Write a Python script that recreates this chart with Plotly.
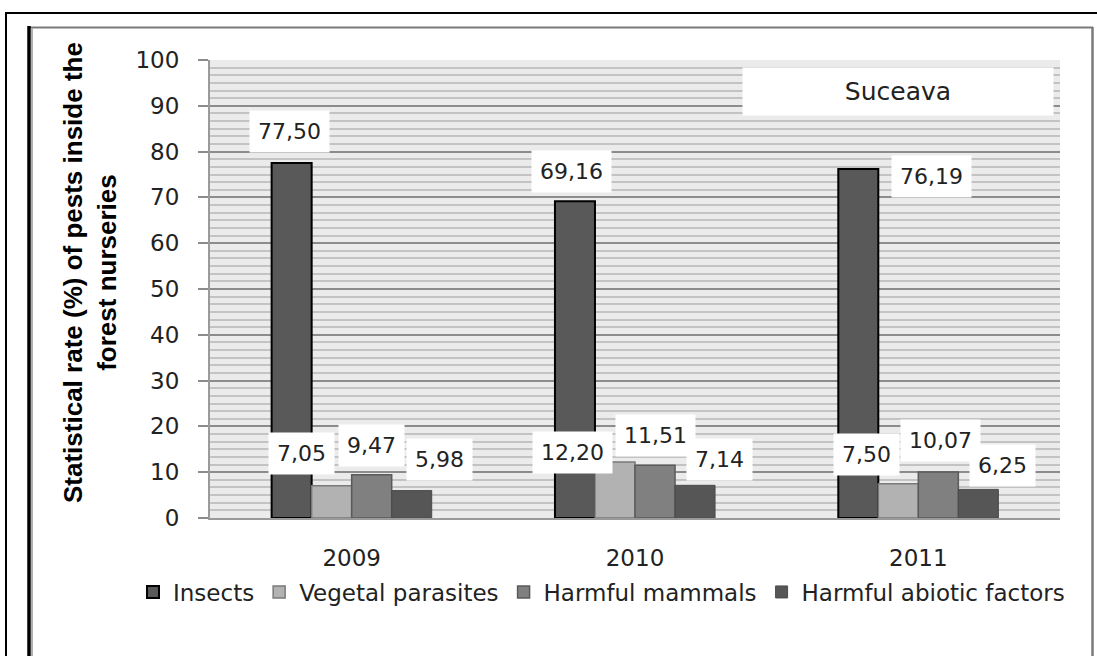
import plotly.graph_objects as go

# ---- data ----
years = ["2009", "2010", "2011"]
insects = [77.50, 69.16, 76.19]
vegetal = [7.05, 12.20, 7.50]
mammals = [9.47, 11.51, 10.07]
abiotic = [5.98, 7.14, 6.25]
series_names = ["Insects", "Vegetal parasites", "Harmful mammals", "Harmful abiotic factors"]
y_tick_vals = list(range(0, 101, 10))

# ---- styling ----
W, H = 1097, 656
L, R, T, B = 210, 37, 60, 138
PW, PH = W - L - R, H - T - B

def px2x(px):
    return (px - L) / PW

def px2y(py):
    return (H - B - py) / PH

fills = ["#595959", "#b2b2b2", "#808080", "#565656"]
edges = ["#000000", "#7a7a7a", "#5a5a5a", "#4a4a4a"]
edge_w = [2, 1.5, 1.5, 1]
series = [insects, vegetal, mammals, abiotic]

# label offsets (px) relative to bar top centre: (dx, dy up)
label_offsets = [
    [(-2, 32), (-4, 30), (73, -7)],
    [(-30, 32), (-43, 10), (-32, 29)],
    [(0, 29), (0, 30), (2, 31)],
    [(28, 31), (24, 26), (24, 24)],
]
slot_px = 40  # width of one bar in px

fig = go.Figure()
for name, vals, fc, ec, ew in zip(series_names, series, fills, edges, edge_w):
    fig.add_trace(go.Bar(
        x=years, y=vals, name=name,
        marker=dict(color=fc, line=dict(color=ec, width=ew)),
    ))

annotations = []
for i, vals in enumerate(series):
    for j, v in enumerate(vals):
        dx, dy = label_offsets[i][j]
        annotations.append(dict(
            x=j, y=v, xref="x", yref="y",   # x = category index
            text=f"{v:.2f}".replace(".", ","),
            showarrow=False, xanchor="center", yanchor="middle",
            xshift=(i - 1.5) * slot_px + dx, yshift=dy,
            bgcolor="white", borderpad=8,
            font=dict(family="DejaVu Sans", size=22, color="#222222"),
        ))

annotations.append(dict(
    x=px2x(898), y=px2y(91), xref="paper", yref="paper",
    text="Suceava", showarrow=False, xanchor="center", yanchor="middle",
    bgcolor="white", borderpad=10, width=290, height=27,
    font=dict(family="DejaVu Sans", size=25, color="#222222"),
))

annotations.append(dict(
    x=px2x(90), y=px2y(273), xref="paper", yref="paper",
    text="<b>Statistical rate (%) of pests inside the<br>forest nurseries</b>",
    showarrow=False, textangle=-90, xanchor="center", yanchor="middle",
    font=dict(family="Liberation Sans", size=26, color="#000000"),
))

shapes = [
    dict(type="rect", xref="paper", yref="paper",
         x0=px2x(6), y0=px2y(13), x1=px2x(1120), y1=px2y(700),
         line=dict(color="#000000", width=2), layer="above"),
    dict(type="line", xref="paper", yref="paper",
         x0=px2x(28), y0=px2y(27.5), x1=px2x(1093), y1=px2y(27.5),
         line=dict(color="#7a7a7a", width=2)),
    dict(type="line", xref="paper", yref="paper",
         x0=px2x(1092.5), y0=px2y(27), x1=px2x(1092.5), y1=px2y(700),
         line=dict(color="#7a7a7a", width=2.5)),
    dict(type="line", xref="paper", yref="paper",
         x0=px2x(32), y0=px2y(28), x1=px2x(32), y1=px2y(700),
         line=dict(color="#b0b0b0", width=2)),
    dict(type="line", xref="paper", yref="paper",
         x0=px2x(29), y0=px2y(26), x1=px2x(29), y1=px2y(700),
         line=dict(color="#000000", width=3.5)),
]

fig.update_layout(
    width=W, height=H,
    margin=dict(l=L, r=R, t=T, b=B, autoexpand=False),
    paper_bgcolor="white", plot_bgcolor="#ebebeb",
    barmode="group", bargap=0.435, bargroupgap=0,
    showlegend=True,
    legend=dict(orientation="h", xref="paper", yref="paper",
                x=px2x(133), y=px2y(592),
                xanchor="left", yanchor="middle",
                font=dict(family="DejaVu Sans", size=23, color="#222222"),
                bgcolor="rgba(0,0,0,0)", traceorder="normal"),
    annotations=annotations,
    shapes=shapes,
    font=dict(family="DejaVu Sans", color="#222222"),
)

fig.update_yaxes(
    range=[0, 100], tickvals=y_tick_vals,
    showgrid=True, gridcolor="#8c8c8c", gridwidth=2,
    minor=dict(dtick=10 / 6, showgrid=True, gridcolor="#c3c3c3", gridwidth=2),
    showline=True, linecolor="#9a9a9a", linewidth=2,
    ticks="outside", ticklen=10, tickwidth=2, tickcolor="#8c8c8c",
    ticklabelstandoff=14,
    tickfont=dict(family="DejaVu Sans", size=23, color="#222222"),
    zeroline=False,
)
fig.update_xaxes(
    type="category", range=[-0.5, len(years) - 0.5],
    showline=True, linecolor="#9a9a9a", linewidth=2,
    ticks="", showgrid=False,
    ticklabelstandoff=18,
    tickfont=dict(family="DejaVu Sans", size=23, color="#222222"),
)

fig.write_html("out.html")
